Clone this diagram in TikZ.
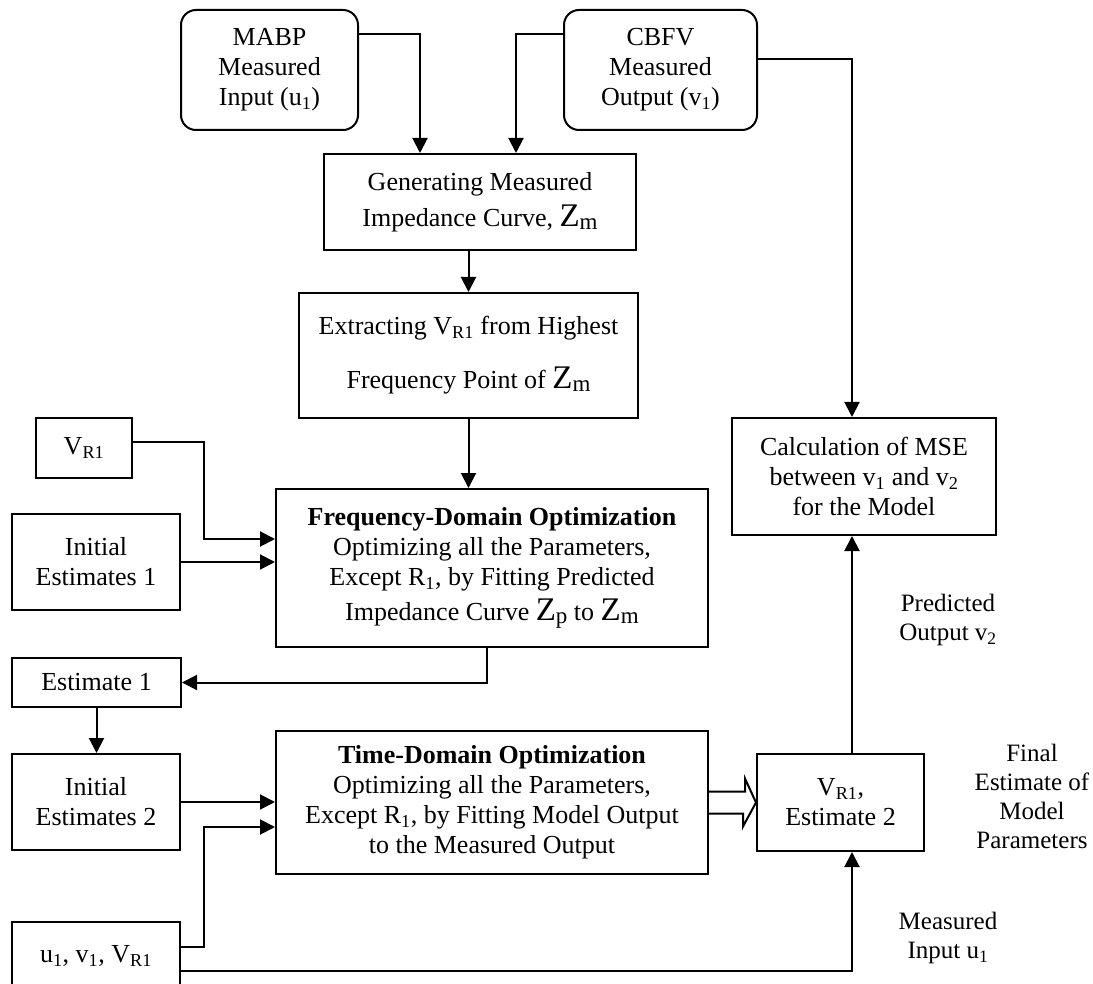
\documentclass[tikz,border=0pt]{standalone}
\usepackage{fontspec}
\setmainfont{Liberation Serif}
\usetikzlibrary{arrows.meta}
\newcommand{\Zsub}[1]{{\fontsize{33}{28}\selectfont Z}\raisebox{-3pt}{\fontsize{23}{24}\selectfont #1}}
\newcommand{\VRone}{V\textsubscript{R1}}
\begin{document}
\begin{tikzpicture}[x=1pt,y=-1pt,
  every node/.style={font=\fontsize{26}{30}\selectfont, align=center, inner sep=0pt},
  box/.style={draw, line width=2pt, fill=white},
  rbox/.style={box, rounded corners=15pt},
  arr/.style={line width=2pt, -{Triangle[length=15pt,width=15pt]}},
  ln/.style={line width=2pt},
  lbl/.style={font=\fontsize{25}{29}\selectfont}]
\useasboundingbox (0,0) rectangle (1093,984);

% nodes
\node[rbox, minimum width=177pt, minimum height=120pt] (mabp) at (269.5,70) {MABP\\Measured\\Input (u\textsubscript{1})};
\node[rbox, minimum width=193pt, minimum height=120pt] (cbfv) at (660.5,70) {CBFV\\Measured\\Output (v\textsubscript{1})};
\node[box, minimum width=312pt, minimum height=96pt] (gen) at (480,202) {Generating Measured\\[6pt]Impedance Curve, \Zsub{m}};
\node[box, minimum width=339pt, minimum height=125pt] (ext) at (468.5,355.5) {Extracting \VRone{} from Highest\\[24pt]Frequency Point of \Zsub{m}};
\node[box, minimum width=432pt, minimum height=158pt] (fdo) at (492,568) {\textbf{Frequency-Domain Optimization}\\Optimizing all the Parameters,\\Except R\textsubscript{1}, by Fitting Predicted\\[5pt]Impedance Curve \Zsub{p} to \Zsub{m}};
\node[box, minimum width=96pt, minimum height=60pt] (vr1) at (84,448) {\VRone};
\node[box, minimum width=168pt, minimum height=96pt] (ie1) at (96,562) {Initial\\Estimates 1};
\node[box, minimum width=169pt, minimum height=49pt] (est1) at (96.5,682.5) {Estimate 1};
\node[box, minimum width=168pt, minimum height=96pt] (ie2) at (96,802) {Initial\\Estimates 2};
\node[box, minimum width=432pt, minimum height=143pt] (tdo) at (492,802.5) {\textbf{Time-Domain Optimization}\\Optimizing all the Parameters,\\Except R\textsubscript{1}, by Fitting Model Output\\to the Measured Output};
\node[box, minimum width=168pt, minimum height=68pt, text depth=0pt] (ubox) at (96,956) {\raisebox{4pt}{u\textsubscript{1}, v\textsubscript{1}, \VRone}};
\node[box, minimum width=167pt, minimum height=97pt] (est2) at (840.5,802.5) {\VRone,\\Estimate 2};
\node[box, minimum width=264pt, minimum height=117pt] (calc) at (864,476.5) {Calculation of MSE\\between v\textsubscript{1} and v\textsubscript{2}\\for the Model};

% labels
\node[lbl] (lpred) at (948,620) {Predicted\\Output v\textsubscript{2}};
\node[lbl] (lfinal) at (1032,796) {Final\\Estimate of\\Model\\Parameters};
\node[lbl] (lmeas) at (948,938) {Measured\\Input u\textsubscript{1}};

% connectors
\draw[arr] (mabp.east |- 0,34) -| (gen.north -| 420,0);
\draw[arr] (cbfv.west |- 0,34) -| (gen.north -| 516,0);
\draw[arr] (gen.south -| ext.north) -- (ext.north);
\draw[arr] (ext.south) -- (ext.south |- fdo.north);
\draw[arr] (vr1.east |- 0,442) -| (204,539) -- (fdo.west |- 0,539);
\draw[arr] (ie1.east) -- (ie1.east -| fdo.west);
\draw[arr] (fdo.south -| 487,0) |- (est1.east);
\draw[arr] (est1.south) -- (est1.south |- ie2.north);
\draw[arr] (ie2.east) -- (ie2.east -| tdo.west);
\draw[arr] (ubox.east |- 0,947) -| (204,827) -- (tdo.west |- 0,827);
\draw[arr] (ubox.east |- 0,971) -| (est2.south -| 852,0);
\draw[arr] (est2.north -| 852,0) -- (calc.south -| 852,0);
\draw[arr] (cbfv.east |- 0,59) -| (calc.north -| 852,0);
% hollow arrow
\draw[ln, fill=white, line join=miter] ([yshift=11pt]tdo.east) -- ++(36,0) -- ++(0,-13) -- (est2.west) -- ++(-13,24) -- ++(0,-13) -- ([yshift=-11pt]tdo.east);
\end{tikzpicture}
\end{document}
